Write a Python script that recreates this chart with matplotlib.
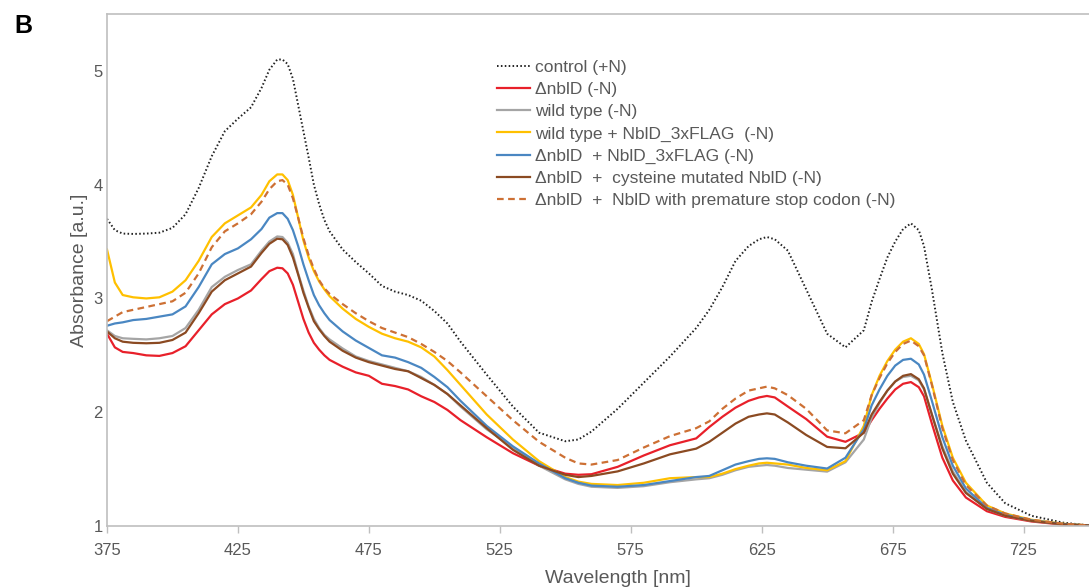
import numpy as np
import matplotlib
matplotlib.use("Agg")
import matplotlib.pyplot as plt

plt.rcParams['font.family'] = ['Liberation Sans', 'DejaVu Sans']

# wavelength grid [nm]
wl = [375, 378, 381, 385, 390, 395, 400, 405, 410, 415,
      420, 425, 430, 434, 437, 440, 442, 444, 446, 448,
      450, 452, 454, 456, 458, 460, 465, 470, 475, 480,
      485, 490, 495, 500, 505, 510, 520, 530, 540, 550,
      555, 560, 570, 580, 590, 600, 605, 610, 615, 620,
      624, 627, 630, 635, 642, 650, 657, 664, 667, 670,
      673, 676, 679, 682, 685, 687, 690, 694, 698, 703,
      711, 718, 728, 740, 750]

control = [3.70, 3.60, 3.57, 3.567, 3.57, 3.578, 3.62, 3.74, 3.97, 4.25,
           4.47, 4.58, 4.68, 4.85, 5.01, 5.10, 5.10, 5.06, 4.93, 4.70,
           4.47, 4.24, 4.00, 3.83, 3.69, 3.59, 3.43, 3.32, 3.22, 3.11,
           3.06, 3.03, 2.98, 2.89, 2.78, 2.62, 2.33, 2.05, 1.82, 1.745,
           1.76, 1.83, 2.03, 2.26, 2.49, 2.74, 2.90, 3.10, 3.33, 3.46,
           3.52, 3.54, 3.52, 3.42, 3.08, 2.69, 2.57, 2.72, 2.97, 3.17,
           3.36, 3.50, 3.61, 3.66, 3.60, 3.46, 3.08, 2.52, 2.09, 1.75,
           1.38, 1.20, 1.09, 1.03, 1.005]

dnblD = [2.69, 2.57, 2.53, 2.52, 2.50, 2.495, 2.52, 2.58, 2.72, 2.86,
         2.95, 3.00, 3.07, 3.17, 3.24, 3.27, 3.265, 3.22, 3.12, 2.97,
         2.82, 2.70, 2.61, 2.55, 2.50, 2.46, 2.40, 2.35, 2.32, 2.25,
         2.23, 2.20, 2.14, 2.09, 2.02, 1.93, 1.78, 1.64, 1.53, 1.46,
         1.45, 1.455, 1.52, 1.62, 1.71, 1.77, 1.87, 1.96, 2.04, 2.10,
         2.13, 2.143, 2.13, 2.05, 1.94, 1.785, 1.74, 1.82, 1.93, 2.03,
         2.12, 2.20, 2.25, 2.265, 2.22, 2.14, 1.90, 1.60, 1.40, 1.25,
         1.13, 1.08, 1.04, 1.012, 1.004]

wild_type = [2.72, 2.67, 2.65, 2.645, 2.64, 2.65, 2.67, 2.74, 2.90, 3.10,
             3.19, 3.25, 3.30, 3.42, 3.50, 3.545, 3.54, 3.49, 3.39, 3.22,
             3.07, 2.93, 2.82, 2.74, 2.68, 2.64, 2.56, 2.49, 2.45, 2.42,
             2.39, 2.36, 2.31, 2.24, 2.16, 2.05, 1.85, 1.69, 1.53, 1.41,
             1.37, 1.345, 1.335, 1.35, 1.385, 1.41, 1.42, 1.45, 1.49, 1.52,
             1.53, 1.536, 1.53, 1.51, 1.495, 1.478, 1.56, 1.76, 1.95, 2.08,
             2.19, 2.27, 2.31, 2.32, 2.28, 2.20, 1.98, 1.70, 1.48, 1.30,
             1.15, 1.09, 1.045, 1.015, 1.005]

wt_flag = [3.43, 3.14, 3.03, 3.01, 3.00, 3.01, 3.06, 3.16, 3.33, 3.54,
           3.66, 3.73, 3.80, 3.91, 4.03, 4.09, 4.09, 4.04, 3.91, 3.71,
           3.51, 3.36, 3.24, 3.15, 3.08, 3.02, 2.91, 2.82, 2.75, 2.69,
           2.65, 2.62, 2.57, 2.49, 2.37, 2.24, 1.98, 1.76, 1.57, 1.43,
           1.39, 1.37, 1.36, 1.38, 1.42, 1.43, 1.43, 1.46, 1.50, 1.53,
           1.55, 1.556, 1.55, 1.54, 1.51, 1.49, 1.57, 1.88, 2.15, 2.32,
           2.45, 2.55, 2.62, 2.65, 2.60, 2.51, 2.25, 1.88, 1.60, 1.38,
           1.18, 1.11, 1.055, 1.02, 1.005]

dnblD_flag = [2.76, 2.78, 2.79, 2.81, 2.82, 2.84, 2.86, 2.93, 3.10, 3.30,
              3.39, 3.44, 3.52, 3.61, 3.71, 3.75, 3.75, 3.70, 3.60, 3.46,
              3.30, 3.16, 3.03, 2.94, 2.87, 2.81, 2.71, 2.63, 2.565, 2.50,
              2.48, 2.44, 2.39, 2.31, 2.22, 2.10, 1.88, 1.70, 1.55, 1.42,
              1.38, 1.355, 1.345, 1.36, 1.395, 1.43, 1.44, 1.49, 1.54, 1.57,
              1.59, 1.595, 1.59, 1.56, 1.53, 1.505, 1.60, 1.85, 2.06, 2.20,
              2.32, 2.41, 2.46, 2.47, 2.42, 2.33, 2.10, 1.78, 1.53, 1.33,
              1.16, 1.10, 1.05, 1.018, 1.005]

dnblD_cys = [2.71, 2.65, 2.62, 2.61, 2.606, 2.61, 2.635, 2.70, 2.87, 3.06,
             3.16, 3.22, 3.28, 3.40, 3.48, 3.525, 3.52, 3.47, 3.36, 3.21,
             3.05, 2.92, 2.80, 2.73, 2.67, 2.62, 2.54, 2.48, 2.44, 2.41,
             2.38, 2.36, 2.30, 2.24, 2.16, 2.06, 1.86, 1.67, 1.53, 1.45,
             1.43, 1.44, 1.48, 1.55, 1.63, 1.68, 1.74, 1.82, 1.90, 1.96,
             1.98, 1.99, 1.98, 1.91, 1.80, 1.695, 1.683, 1.82, 1.98, 2.09,
             2.19, 2.27, 2.32, 2.335, 2.29, 2.21, 1.98, 1.68, 1.46, 1.29,
             1.15, 1.09, 1.045, 1.015, 1.005]

dnblD_stop = [2.80, 2.84, 2.88, 2.90, 2.925, 2.95, 2.975, 3.05, 3.22, 3.45,
              3.59, 3.66, 3.74, 3.85, 3.96, 4.03, 4.04, 4.00, 3.88, 3.71,
              3.53, 3.38, 3.26, 3.16, 3.09, 3.04, 2.95, 2.87, 2.80, 2.74,
              2.70, 2.66, 2.60, 2.53, 2.45, 2.35, 2.14, 1.93, 1.74, 1.60,
              1.55, 1.54, 1.58, 1.69, 1.79, 1.86, 1.92, 2.03, 2.12, 2.19,
              2.21, 2.225, 2.21, 2.15, 2.03, 1.84, 1.815, 1.93, 2.15, 2.30,
              2.43, 2.53, 2.60, 2.63, 2.58, 2.50, 2.24, 1.86, 1.58, 1.36,
              1.18, 1.11, 1.055, 1.02, 1.005]

labels = ["control (+N)",
          "\u0394nblD (-N)",
          "wild type (-N)",
          "wild type + NblD_3xFLAG  (-N)",
          "\u0394nblD  + NblD_3xFLAG (-N)",
          "\u0394nblD  +  cysteine mutated NblD (-N)",
          "\u0394nblD  +  NblD with premature stop codon (-N)"]

fig = plt.figure(figsize=(10.89, 5.87), dpi=100)
ax = fig.add_axes([107 / 1089, 61 / 587, 982 / 1089, 512 / 587])

ax.plot(wl, control, color='#222222', lw=1.4, ls=(0, (0.8, 1.2)), label=labels[0])
ax.plot(wl, dnblD, color='#E8202A', lw=1.6, label=labels[1])
ax.plot(wl, wild_type, color='#A5A5A5', lw=1.6, label=labels[2])
ax.plot(wl, wt_flag, color='#FFC000', lw=1.6, label=labels[3])
ax.plot(wl, dnblD_flag, color='#4A87C2', lw=1.6, label=labels[4])
ax.plot(wl, dnblD_cys, color='#8B4A22', lw=1.6, label=labels[5])
ax.plot(wl, dnblD_stop, color='#CD7034', lw=1.6, ls=(0, (3, 2)), label=labels[6])

ax.set_xlim(375, 750)
ax.set_ylim(1, 5.5)
ax.set_xticks([375, 425, 475, 525, 575, 625, 675, 725])
ax.set_yticks([1, 2, 3, 4, 5])

for s in ['left', 'bottom', 'top']:
    ax.spines[s].set_color('#BFBFBF')
    ax.spines[s].set_linewidth(1.2)
ax.spines['right'].set_visible(False)

ax.tick_params(axis='x', colors='#BFBFBF', labelcolor='#595959', labelsize=12,
               length=5, width=1, pad=7)
ax.tick_params(axis='y', length=0, labelcolor='#595959', labelsize=12, pad=3)

ax.set_xlabel("Wavelength [nm]", fontsize=14, color='#595959')
ax.set_ylabel("Absorbance [a.u.]", fontsize=14, color='#595959')
ax.xaxis.set_label_coords(0.52, -0.085)
ax.yaxis.set_label_coords(-0.019, 0.5)

leg = ax.legend(loc='upper left', bbox_to_anchor=(497 / 1089, 1 - 60 / 587),
                bbox_transform=fig.transFigure, frameon=False, fontsize=12.5,
                handlelength=1.9, handletextpad=0.3, labelspacing=0.4,
                borderpad=0, borderaxespad=0)
for t in leg.get_texts():
    t.set_color('#595959')

fig.text(14 / 1089, 1 - 33 / 587, "B", fontsize=18, fontweight='bold', color='black')

fig.savefig("out.png", dpi=100)
